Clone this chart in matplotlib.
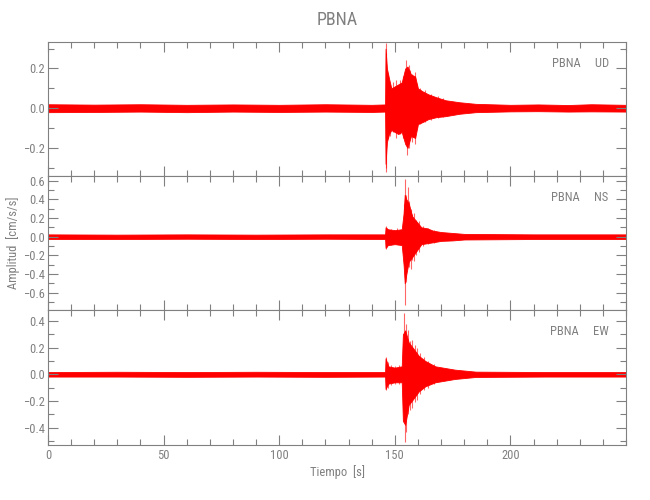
import numpy as np
import matplotlib
matplotlib.use('Agg')
import matplotlib.pyplot as plt
from matplotlib.ticker import MultipleLocator, FuncFormatter
from matplotlib import font_manager

names = set(f.name for f in font_manager.fontManager.ttflist)
print(sorted(names))
fam = [n for n in ['Liberation Sans Narrow', 'DejaVu Sans Condensed', 'Roboto Condensed'] if n in names]
plt.rcParams['font.family'] = fam + ['DejaVu Sans']
plt.rcParams['font.stretch'] = 'condensed'

station = 'PBNA'
components = ['UD', 'NS', 'EW']
t_max = 250

# envelope of each trace: time [s], upper, lower [cm/s/s]
ud_t  = [0, 20, 40, 60, 80, 100, 120, 140, 145.8, 146.0, 146.6, 147.5, 148.5, 150.0, 151.5,
         153.0, 154.5, 155.5, 157.0, 158.8, 160.0, 162.0, 164.5, 168.0, 172.0, 178.0, 185.0,
         200, 212, 225, 235, 250]
ud_hi = [0.02, 0.018, 0.02, 0.017, 0.019, 0.017, 0.02, 0.017, 0.019, 0.30, 0.20, 0.15, 0.10,
         0.11, 0.12, 0.13, 0.20, 0.21, 0.17, 0.16, 0.10, 0.085, 0.07, 0.055, 0.04, 0.03, 0.022,
         0.017, 0.019, 0.016, 0.02, 0.017]
ud_lo = [-0.02, -0.019, -0.017, -0.02, -0.017, -0.019, -0.017, -0.019, -0.017, -0.28, -0.17,
         -0.13, -0.11, -0.12, -0.13, -0.12, -0.18, -0.20, -0.14, -0.15, -0.08, -0.07, -0.055,
         -0.045, -0.04, -0.028, -0.02, -0.016, -0.015, -0.017, -0.016, -0.017]

ns_t  = [0, 30, 60, 90, 120, 145.8, 146.0, 147.0, 150.0, 153.0, 153.8, 154.3, 155.0, 156.0,
         157.5, 159.5, 161.5, 164.0, 166.5, 170.0, 175.0, 180.0, 210, 250]
ns_hi = [0.025, 0.022, 0.025, 0.022, 0.025, 0.025, 0.10, 0.08, 0.07, 0.08, 0.25, 0.45, 0.40, 0.36,
         0.22, 0.16, 0.10, 0.09, 0.065, 0.05, 0.04, 0.03, 0.025, 0.025]
ns_lo = [-0.025, -0.025, -0.022, -0.025, -0.022, -0.025, -0.12, -0.09, -0.08, -0.09, -0.30, -0.50,
         -0.40, -0.27, -0.22, -0.15, -0.08, -0.07, -0.06, -0.045, -0.04, -0.03, -0.025, -0.025]

ew_t  = [0, 30, 60, 90, 120, 145.8, 146.0, 147.2, 150.0, 153.0, 153.5, 154.5, 156.0, 158.2,
         160.3, 163.2, 167.5, 176.0, 185.0, 215, 250]
ew_hi = [0.017, 0.019, 0.017, 0.019, 0.017, 0.017, 0.12, 0.06, 0.05, 0.06, 0.30, 0.33, 0.24, 0.19,
         0.14, 0.10, 0.06, 0.035, 0.02, 0.017, 0.017]
ew_lo = [-0.017, -0.017, -0.019, -0.017, -0.019, -0.017, -0.11, -0.07, -0.06, -0.06, -0.35, -0.38,
         -0.23, -0.18, -0.13, -0.09, -0.06, -0.035, -0.02, -0.017, -0.017]

# individual peaks sticking out of the envelope: time, top, bottom
ud_spk_t   = [146.0, 146.3, 147.0, 148.0, 149.3, 150.6, 152.2, 153.5, 154.8, 155.3, 156.0, 156.5,
              157.6, 158.8, 159.6, 161.0, 163.0, 165.5, 168.5, 171.0]
ud_spk_top = [0.33, 0.28, 0.17, 0.12, 0.13, 0.14, 0.14, 0.16, 0.245, 0.15, 0.22, 0.19,
              0.17, 0.18, 0.12, 0.10, 0.09, 0.07, 0.06, 0.05]
ud_spk_bot = [-0.30, -0.32, -0.15, -0.14, -0.12, -0.15, -0.13, -0.15, -0.10, -0.235, -0.20, -0.15,
              -0.17, -0.18, -0.10, -0.08, -0.07, -0.06, -0.05, -0.045]

ns_spk_t   = [146.1, 146.8, 148.5, 151.0, 153.9, 154.2, 154.4, 155.0, 155.5, 156.2, 156.8, 157.6,
              158.5, 159.2, 160.5, 162.0, 164.5, 167.0]
ns_spk_top = [0.11, 0.09, 0.08, 0.09, 0.35, 0.62, 0.30, 0.45, 0.53, 0.38, 0.30, 0.24,
              0.25, 0.18, 0.17, 0.12, 0.09, 0.07]
ns_spk_bot = [-0.13, -0.11, -0.09, -0.08, -0.30, -0.20, -0.735, -0.49, -0.30, -0.32, -0.35, -0.25,
              -0.26, -0.20, -0.16, -0.10, -0.08, -0.065]

ew_spk_t   = [146.2, 146.9, 148.4, 150.2, 152.0, 153.8, 154.2, 155.0, 155.8, 156.6, 157.4, 158.6,
              159.5, 161.0, 162.5, 164.5, 167.0]
ew_spk_top = [0.13, 0.09, 0.07, 0.06, 0.07, 0.458, 0.30, 0.38, 0.33, 0.25, 0.26, 0.22,
              0.20, 0.16, 0.13, 0.10, 0.08]
ew_spk_bot = [-0.12, -0.10, -0.08, -0.07, -0.07, -0.20, -0.506, -0.43, -0.30, -0.27, -0.25, -0.21,
              -0.19, -0.15, -0.12, -0.10, -0.07]

ylims = [(-0.34, 0.335), (-0.786, 0.654), (-0.531, 0.483)]
ymajor = [0.2, 0.2, 0.2]

traces = [(ud_t, ud_hi, ud_lo, ud_spk_t, ud_spk_top, ud_spk_bot),
          (ns_t, ns_hi, ns_lo, ns_spk_t, ns_spk_top, ns_spk_bot),
          (ew_t, ew_hi, ew_lo, ew_spk_t, ew_spk_top, ew_spk_bot)]

gray = '#808080'
red = '#ff0000'

fig = plt.figure(figsize=(6.5, 5), dpi=100)
left, width = 48 / 650, (626 - 48) / 650
tops = [41.7, 175.7, 310.0, 445.0]

def fmt(v, pos):
    s = '%.1f' % v
    return s.replace('-', '\u2212') if v < -1e-9 else s.replace('-', '')

axes = []
for i in range(3):
    b = 1 - tops[i + 1] / 500
    h = (tops[i + 1] - tops[i]) / 500
    ax = fig.add_axes([left, b, width, h])
    t, hi, lo, st, stop, sbot = traces[i]
    ax.fill_between(t, lo, hi, color=red, lw=0.6)
    ax.vlines(st, sbot, stop, color=red, lw=0.8, alpha=0.6)
    ax.set_xlim(0, t_max)
    ax.set_ylim(*ylims[i])
    ax.xaxis.set_major_locator(MultipleLocator(50))
    ax.xaxis.set_minor_locator(MultipleLocator(10))
    ax.yaxis.set_major_locator(MultipleLocator(ymajor[i]))
    ax.yaxis.set_minor_locator(MultipleLocator(0.1))
    ax.yaxis.set_major_formatter(FuncFormatter(fmt))
    ax.tick_params(which='both', direction='in', top=True, right=True, colors=gray,
                   labelcolor=gray, labelsize=9, width=0.8)
    ax.tick_params(which='major', length=7)
    ax.tick_params(which='minor', length=4)
    ax.tick_params(axis='y', pad=2)
    for sp in ax.spines.values():
        sp.set_color(gray)
        sp.set_linewidth(0.8)
    if i < 2:
        ax.tick_params(labelbottom=False)
    ax.text(0.97, 0.84, station + '     ' + components[i], transform=ax.transAxes,
            ha='right', va='center', color=gray, fontsize=9)
    axes.append(ax)

axes[2].set_xticks([0, 50, 100, 150, 200])
axes[2].tick_params(axis='x', pad=3)
axes[2].set_xlabel('Tiempo  [s]', color=gray, fontsize=9, labelpad=2)
fig.text(13 / 650, 1 - 243 / 500, 'Amplitud  [cm/s/s]', rotation=90, ha='center', va='center',
         color=gray, fontsize=9)
fig.text((left + width / 2), 1 - 20 / 500, station, ha='center', va='center', color=gray,
         fontsize=13)

fig.savefig('out.png', dpi=100)
